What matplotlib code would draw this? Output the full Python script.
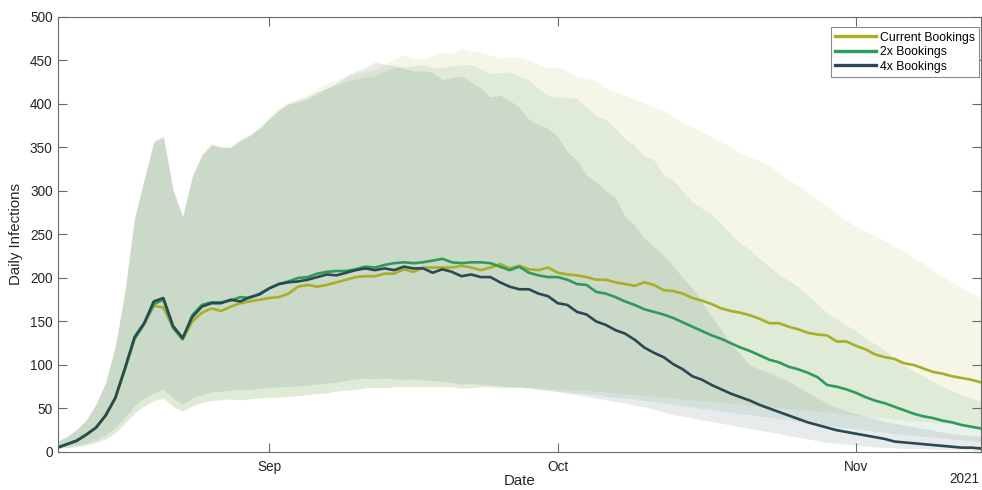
import numpy as np
import pandas as pd
import matplotlib
matplotlib.use("Agg")
import matplotlib.pyplot as plt
import matplotlib.dates as mdates

plt.rcParams['font.family'] = ['Liberation Sans', 'DejaVu Sans']

# daily values, 10 Aug 2021 .. 14 Nov 2021
start_date = "2021-08-10"

current_med = [5, 9, 13, 20, 28, 42, 62, 95, 130, 147,
               168, 166, 143, 129, 150, 160, 165, 162, 167, 171,
               173, 175, 177, 178, 182, 190, 192, 190, 192, 195,
               198, 201, 202, 202, 205, 205, 210, 207, 212, 212,
               212, 212, 214, 212, 209, 212, 216, 211, 214, 210,
               209, 212, 206, 204, 203, 201, 198, 198, 195, 193,
               191, 195, 192, 186, 185, 182, 177, 174, 170, 165,
               162, 160, 157, 153, 148, 148, 144, 141, 137, 135,
               134, 127, 127, 122, 118, 112, 109, 107, 102, 100,
               96, 92, 90, 87, 85, 83, 80]
x2_med = [5, 9, 13, 20, 28, 42, 62, 95, 130, 147,
          170, 175, 143, 130, 157, 169, 172, 172, 174, 178,
          177, 182, 188, 193, 196, 200, 201, 205, 207, 208,
          208, 210, 213, 212, 215, 217, 218, 217, 218, 220,
          222, 218, 217, 218, 218, 217, 213, 209, 213, 206,
          203, 201, 201, 198, 193, 192, 184, 182, 178, 173,
          169, 164, 161, 158, 154, 149, 144, 139, 134, 130,
          125, 120, 116, 111, 106, 103, 98, 95, 91, 86,
          77, 75, 72, 68, 63, 59, 56, 52, 48, 44,
          41, 39, 36, 34, 31, 29, 27]
x4_med = [5, 9, 13, 20, 28, 42, 62, 96, 132, 148,
          173, 177, 145, 131, 155, 167, 171, 171, 175, 173,
          178, 181, 188, 193, 195, 196, 198, 201, 204, 203,
          206, 209, 211, 209, 211, 209, 213, 211, 211, 206,
          210, 207, 202, 204, 201, 201, 195, 190, 187, 187,
          182, 179, 171, 169, 161, 158, 150, 146, 140, 136,
          129, 120, 114, 109, 101, 95, 87, 83, 77, 72,
          67, 63, 59, 54, 50, 46, 42, 38, 34, 31,
          28, 25, 23, 21, 19, 17, 15, 12, 11, 10,
          9, 8, 7, 6, 5, 5, 4]

current_hi = [12, 18, 26, 37, 55, 80, 122, 185, 270, 315,
              358, 364, 303, 272, 318, 343, 355, 352, 352, 360,
              366, 374, 385, 396, 403, 406, 410, 418, 424, 428,
              431, 435, 438, 440, 445, 452, 456, 452, 452, 456,
              460, 458, 464, 460, 460, 456, 452, 454, 454, 450,
              446, 441, 443, 438, 431, 429, 427, 418, 414, 410,
              406, 401, 396, 393, 386, 378, 374, 368, 362, 356,
              351, 343, 339, 334, 330, 320, 313, 306, 298, 290,
              282, 274, 266, 259, 254, 248, 243, 236, 231, 223,
              217, 208, 202, 195, 189, 183, 177]
x2_hi = [12, 18, 26, 37, 55, 80, 121, 184, 268, 313,
         356, 362, 301, 270, 316, 341, 353, 350, 350, 358,
         364, 372, 383, 393, 400, 402, 405, 412, 418, 422,
         426, 429, 431, 432, 438, 442, 443, 444, 445, 442,
         442, 444, 445, 445, 440, 435, 436, 437, 432, 428,
         418, 410, 408, 408, 406, 396, 386, 382, 372, 360,
         352, 340, 336, 318, 312, 300, 288, 280, 274, 262,
         250, 240, 232, 222, 213, 204, 197, 190, 180, 170,
         160, 153, 146, 139, 131, 124, 117, 108, 100, 93,
         87, 81, 75, 70, 66, 62, 58]
x4_hi = [12, 18, 26, 37, 55, 80, 121, 184, 268, 313,
         356, 362, 301, 270, 316, 341, 353, 350, 350, 358,
         364, 372, 383, 393, 400, 404, 408, 414, 418, 424,
         432, 438, 442, 448, 446, 444, 441, 438, 438, 436,
         428, 430, 432, 425, 418, 408, 410, 404, 396, 382,
         376, 372, 362, 345, 335, 318, 310, 300, 292, 270,
         260, 246, 236, 226, 214, 200, 188, 172, 155, 140,
         124, 112, 100, 95, 91, 86, 81, 75, 68, 62,
         56, 51, 47, 44, 41, 38, 35, 33, 31, 29,
         27, 25, 23, 21, 20, 19, 18]

current_lo = [4, 5, 6, 8, 11, 15, 22, 33, 45, 53,
              59, 62, 52, 47, 53, 57, 59, 60, 61, 60,
              61, 62, 63, 63, 64, 65, 66, 67, 68, 70,
              71, 72, 74, 74, 74, 75, 75, 75, 75, 75,
              75, 75, 74, 74, 75, 75, 74, 74, 75, 74,
              74, 73, 72, 72, 71, 71, 70, 69, 68, 67,
              66, 65, 64, 63, 62, 61, 60, 59, 58, 57,
              56, 55, 54, 53, 52, 51, 50, 49, 48, 47,
              46, 45, 44, 42, 41, 40, 39, 38, 37, 36,
              35, 34, 33, 32, 31, 29, 28]
x2_lo = [4, 5, 6, 8, 11, 15, 22, 33, 45, 53,
         59, 62, 52, 47, 53, 57, 59, 60, 61, 60,
         61, 62, 63, 63, 64, 65, 66, 67, 68, 70,
         71, 72, 74, 74, 74, 75, 75, 75, 75, 75,
         75, 75, 73, 74, 75, 75, 74, 74, 74, 73,
         72, 71, 70, 69, 68, 67, 66, 64, 63, 62,
         61, 59, 58, 56, 55, 53, 52, 50, 49, 47,
         46, 44, 43, 41, 40, 38, 37, 35, 34, 32,
         31, 29, 28, 27, 25, 24, 23, 21, 20, 19,
         18, 17, 16, 15, 14, 13, 12]
x4_lo = [5, 6, 8, 10, 14, 20, 28, 40, 53, 62,
         68, 72, 62, 55, 62, 66, 69, 70, 71, 72,
         72, 73, 74, 75, 75, 76, 77, 78, 79, 80,
         82, 84, 85, 84, 85, 84, 83, 84, 83, 82,
         81, 80, 78, 79, 78, 77, 76, 75, 75, 74,
         72, 71, 69, 67, 66, 64, 62, 60, 58, 56,
         54, 52, 49, 46, 43, 41, 39, 37, 35, 33,
         31, 29, 27, 25, 23, 21, 19, 17, 15, 13,
         11, 10, 9, 8, 7, 6, 5, 5, 4, 4,
         4, 3, 3, 3, 3, 2, 2]

labels = ["Current Bookings", "2x Bookings", "4x Bookings"]
colors = ["#A9AE28", "#2E9A5C", "#2A4A53"]

dates = pd.date_range(start_date, periods=len(current_med), freq="D")

fig = plt.figure(figsize=(9.82, 4.9), dpi=100)
ax = fig.add_axes([0.0586, 0.0776, 0.9404, 0.8878])

bands = [(current_lo, current_hi), (x2_lo, x2_hi), (x4_lo, x4_hi)]
for (lo, hi), c in zip(bands, colors):
    ax.fill_between(dates, lo, hi, color=c, alpha=0.11, linewidth=0)

for med, c, lab in zip([current_med, x2_med, x4_med], colors, labels):
    ax.plot(dates, med, color=c, lw=1.9, label=lab)

ax.set_xlim(dates[0], dates[-1])
ax.set_ylim(0, 500)
ax.set_yticks(np.arange(0, 501, 50))
ax.xaxis.set_major_locator(mdates.MonthLocator())
ax.xaxis.set_major_formatter(mdates.DateFormatter("%b"))

for s in ax.spines.values():
    s.set_color("#6a6a6a")
    s.set_linewidth(0.8)
ax.tick_params(direction="in", length=6.5, width=0.8, color="#6a6a6a",
               labelsize=9.8, labelcolor="#262626", top=True, right=True)
ax.tick_params(axis="x", pad=6)

ax.set_xlabel("Date", fontsize=10.8, color="#262626", labelpad=0)
ax.set_ylabel("Daily Infections", fontsize=10.8, color="#262626", labelpad=5)
fig.text(0.997, 0.008, "2021", ha="right", va="bottom", fontsize=9.8, color="#262626")

leg = ax.legend(loc="upper right", bbox_to_anchor=(0.998, 0.976), borderaxespad=0,
                fontsize=8.8, frameon=True, fancybox=False, framealpha=1,
                handlelength=3.3, handletextpad=0.35, labelspacing=0.2,
                borderpad=0.35)
leg.get_frame().set_edgecolor("#8a8a8a")
leg.get_frame().set_linewidth(0.8)
for line in leg.get_lines():
    line.set_linewidth(2.4)

fig.savefig("out.png", dpi=100)
